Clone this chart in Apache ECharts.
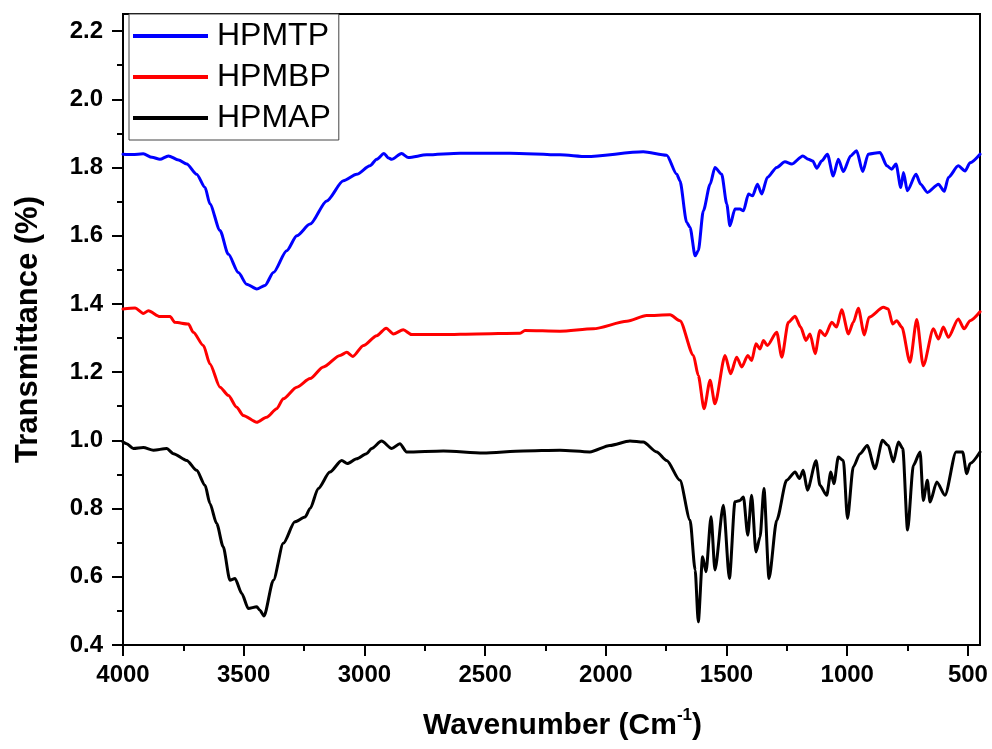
<!DOCTYPE html>
<html>
<head>
<meta charset="utf-8">
<title>FTIR spectra</title>
<script src="https://cdn.jsdelivr.net/npm/echarts@6/dist/echarts.min.js"></script>
<style>
  html, body { margin: 0; padding: 0; background: #ffffff; }
  #chart { width: 992px; height: 749px; }
</style>
</head>
<body>
<div id="chart"></div>
<script>
// FTIR transmittance spectra, [wavenumber (cm-1), transmittance]
const hpmtp = [
  [4000,1.839],[3960,1.838],[3916,1.840],[3880,1.830],[3847,1.824],[3812,1.834],[3770,1.822],
  [3736,1.810],[3695,1.780],[3660,1.741],[3640,1.693],[3598,1.615],[3564,1.546],[3522,1.492],
  [3488,1.458],[3446,1.444],[3412,1.454],[3377,1.492],[3322,1.556],[3280,1.600],[3225,1.634],
  [3156,1.702],[3087,1.761],[3032,1.780],[2977,1.805],[2949,1.824],[2919,1.841],[2900,1.828],
  [2887,1.824],[2846,1.841],[2818,1.829],[2742,1.837],[2604,1.842],[2397,1.842],[2190,1.837],
  [2079,1.832],[1845,1.846],[1748,1.836],[1706,1.780],[1693,1.761],[1665,1.639],[1651,1.624],
  [1630,1.541],[1617,1.556],[1596,1.673],[1568,1.751],[1548,1.800],[1520,1.780],[1499,1.693],
  [1486,1.629],[1465,1.678],[1444,1.678],[1430,1.673],[1409,1.722],[1392,1.717],[1372,1.751],
  [1354,1.722],[1331,1.771],[1292,1.800],[1258,1.817],[1230,1.810],[1184,1.834],[1161,1.824],
  [1143,1.819],[1126,1.798],[1106,1.819],[1082,1.839],[1058,1.775],[1037,1.824],[1016,1.788],
  [986,1.834],[961,1.849],[936,1.788],[913,1.839],[864,1.844],[836,1.805],[816,1.795],
  [798,1.810],[778,1.741],[767,1.785],[751,1.732],[715,1.780],[696,1.751],[668,1.727],
  [622,1.751],[598,1.730],[581,1.771],[540,1.805],[512,1.790],[491,1.814],[450,1.839]
];

const hpmbp = [
  [4000,1.385],[3950,1.388],[3916,1.372],[3895,1.380],[3847,1.363],[3805,1.363],[3785,1.346],
  [3729,1.341],[3709,1.317],[3667,1.278],[3640,1.224],[3598,1.156],[3564,1.132],[3529,1.097],
  [3502,1.073],[3446,1.053],[3405,1.068],[3363,1.093],[3336,1.122],[3280,1.156],[3225,1.181],
  [3170,1.215],[3101,1.249],[3073,1.258],[3048,1.246],[3004,1.278],[2949,1.307],[2910,1.329],
  [2880,1.312],[2839,1.324],[2804,1.310],[2673,1.310],[2535,1.312],[2355,1.314],[2335,1.322],
  [2190,1.320],[2052,1.327],[1913,1.349],[1831,1.366],[1734,1.368],[1693,1.351],[1637,1.249],
  [1617,1.190],[1593,1.093],[1568,1.176],[1548,1.107],[1506,1.249],[1483,1.195],[1458,1.244],
  [1437,1.215],[1412,1.249],[1396,1.234],[1378,1.283],[1361,1.268],[1347,1.293],[1331,1.278],
  [1292,1.317],[1271,1.244],[1244,1.346],[1216,1.364],[1193,1.332],[1171,1.293],[1154,1.312],
  [1133,1.254],[1113,1.322],[1092,1.307],[1064,1.346],[1044,1.332],[1023,1.383],[995,1.312],
  [975,1.346],[954,1.387],[929,1.309],[910,1.361],[850,1.390],[830,1.385],[812,1.341],
  [795,1.351],[774,1.332],[740,1.229],[712,1.354],[685,1.219],[643,1.327],[622,1.297],
  [602,1.332],[581,1.302],[540,1.356],[516,1.327],[491,1.351],[450,1.377]
];

const hpmap = [
  [4000,0.995],[3985,0.990],[3957,0.976],[3916,0.979],[3874,0.971],[3819,0.976],[3791,0.961],
  [3736,0.941],[3695,0.912],[3660,0.868],[3640,0.815],[3612,0.756],[3585,0.688],[3557,0.590],
  [3536,0.595],[3508,0.551],[3481,0.507],[3446,0.512],[3433,0.502],[3416,0.485],[3377,0.590],
  [3336,0.698],[3288,0.761],[3246,0.775],[3225,0.800],[3191,0.859],[3143,0.907],[3094,0.941],
  [3071,0.932],[3032,0.946],[2991,0.961],[2970,0.976],[2929,0.998],[2887,0.976],[2853,0.990],
  [2825,0.966],[2673,0.969],[2508,0.963],[2342,0.969],[2190,0.971],[2066,0.966],[1983,0.985],
  [1900,0.998],[1845,0.995],[1789,0.966],[1748,0.941],[1693,0.883],[1651,0.766],[1630,0.620],
  [1617,0.468],[1599,0.659],[1585,0.615],[1564,0.776],[1548,0.620],[1513,0.810],[1488,0.595],
  [1465,0.820],[1444,0.824],[1430,0.834],[1412,0.722],[1396,0.839],[1378,0.673],[1361,0.717],
  [1345,0.859],[1324,0.595],[1292,0.766],[1251,0.883],[1216,0.907],[1198,0.888],[1182,0.912],
  [1165,0.854],[1129,0.940],[1113,0.868],[1085,0.839],[1068,0.907],[1055,0.873],[1037,0.951],
  [1016,0.941],[999,0.771],[975,0.922],[947,0.961],[917,0.985],[885,0.917],[854,1.000],
  [830,0.985],[809,0.937],[788,0.995],[770,0.976],[750,0.737],[726,0.927],[698,0.966],
  [685,0.824],[668,0.883],[657,0.819],[629,0.878],[595,0.839],[549,0.966],[522,0.966],
  [505,0.902],[491,0.932],[450,0.966]
];

const seriesNames = ['HPMTP', 'HPMBP', 'HPMAP'];
const seriesColors = ['#0000ff', '#ff0000', '#000000'];

const xMajorTicks = [4000, 3500, 3000, 2500, 2000, 1500, 1000, 500];
const xMinorTicks = [3750, 3250, 2750, 2250, 1750, 1250, 750];
const yMajorTicks = [0.4, 0.6, 0.8, 1.0, 1.2, 1.4, 1.6, 1.8, 2.0, 2.2];
const yMinorTicks = [0.5, 0.7, 0.9, 1.1, 1.3, 1.5, 1.7, 1.9, 2.1];

const X_MIN = 450, X_MAX = 4000, Y_MIN = 0.4, Y_MAX = 2.25;

const FONT = 'Arial, "Liberation Sans", Helvetica, sans-serif';
const axisColor = '#000000';

const chart = echarts.init(document.getElementById('chart'), null, { renderer: 'canvas' });

function xAxisBase(extra) {
  return Object.assign({
    type: 'value', min: X_MIN, max: X_MAX, inverse: true, position: 'bottom',
    splitLine: { show: false }
  }, extra);
}
function yAxisBase(extra) {
  return Object.assign({
    type: 'value', min: Y_MIN, max: Y_MAX, position: 'left',
    splitLine: { show: false }
  }, extra);
}

const option = {
  backgroundColor: '#ffffff',
  animation: false,
  grid: {
    left: 123, right: 12, top: 14, bottom: 104,
    containLabel: false,
    outerBoundsMode: 'none',
    show: true, borderColor: axisColor, borderWidth: 2, backgroundColor: 'transparent'
  },
  legend: {
    orient: 'vertical',
    left: 129, top: 14,
    data: seriesNames,
    icon: 'rect',
    itemWidth: 75, itemHeight: 4,
    itemGap: 9,
    padding: [6, 8, 6, 4],
    borderColor: '#444444', borderWidth: 1,
    backgroundColor: '#ffffff',
    textStyle: {
      fontFamily: FONT, fontSize: 32, color: '#000000', lineHeight: 32,
      padding: [0, 0, 0, 4]
    }
  },
  xAxis: [
    xAxisBase({
      name: '{t|Wavenumber (Cm}{s|-1}{t|)}',
      nameLocation: 'middle', nameGap: 62,
      nameTextStyle: {
        padding: [0, 0, 0, 22],
        rich: {
          t: { fontFamily: FONT, fontSize: 30, fontWeight: 'bold', color: '#000' },
          s: { fontFamily: FONT, fontSize: 17, fontWeight: 'bold', color: '#000', padding: [0, 0, 21, 0] }
        }
      },
      axisLine: { show: true, onZero: false, lineStyle: { color: axisColor, width: 2 } },
      axisTick: { show: true, inside: false, length: 11, customValues: xMajorTicks, lineStyle: { color: axisColor, width: 2 } },
      axisLabel: {
        customValues: xMajorTicks, margin: 18,
        fontFamily: FONT, fontSize: 24, fontWeight: 'bold', color: '#000',
        formatter: v => String(v)
      }
    }),
    xAxisBase({
      axisLine: { show: false },
      axisTick: { show: true, inside: false, length: 6, customValues: xMinorTicks, lineStyle: { color: axisColor, width: 2 } },
      axisLabel: { show: false }
    })
  ],
  yAxis: [
    yAxisBase({
      name: 'Transmittance (%)',
      nameLocation: 'middle', nameGap: 79, nameRotate: 90,
      nameTextStyle: { fontFamily: FONT, fontSize: 31, fontWeight: 'bold', color: '#000' },
      axisLine: { show: true, onZero: false, lineStyle: { color: axisColor, width: 2 } },
      axisTick: { show: true, inside: false, length: 11, customValues: yMajorTicks, lineStyle: { color: axisColor, width: 2 } },
      axisLabel: {
        customValues: yMajorTicks, margin: 20,
        fontFamily: FONT, fontSize: 24, fontWeight: 'bold', color: '#000',
        formatter: v => v.toFixed(1)
      }
    }),
    yAxisBase({
      axisLine: { show: false },
      axisTick: { show: true, inside: false, length: 6, customValues: yMinorTicks, lineStyle: { color: axisColor, width: 2 } },
      axisLabel: { show: false }
    })
  ],
  series: [hpmtp, hpmbp, hpmap].map((data, i) => ({
    name: seriesNames[i],
    type: 'line',
    xAxisIndex: 0, yAxisIndex: 0,
    data: data,
    showSymbol: false,
    smooth: 0.25,
    smoothMonotone: 'x',
    color: seriesColors[i],
    lineStyle: { color: seriesColors[i], width: 3, join: 'round', cap: 'round' },
    emphasis: { disabled: true }
  }))
};

chart.setOption(option);
</script>
</body>
</html>
